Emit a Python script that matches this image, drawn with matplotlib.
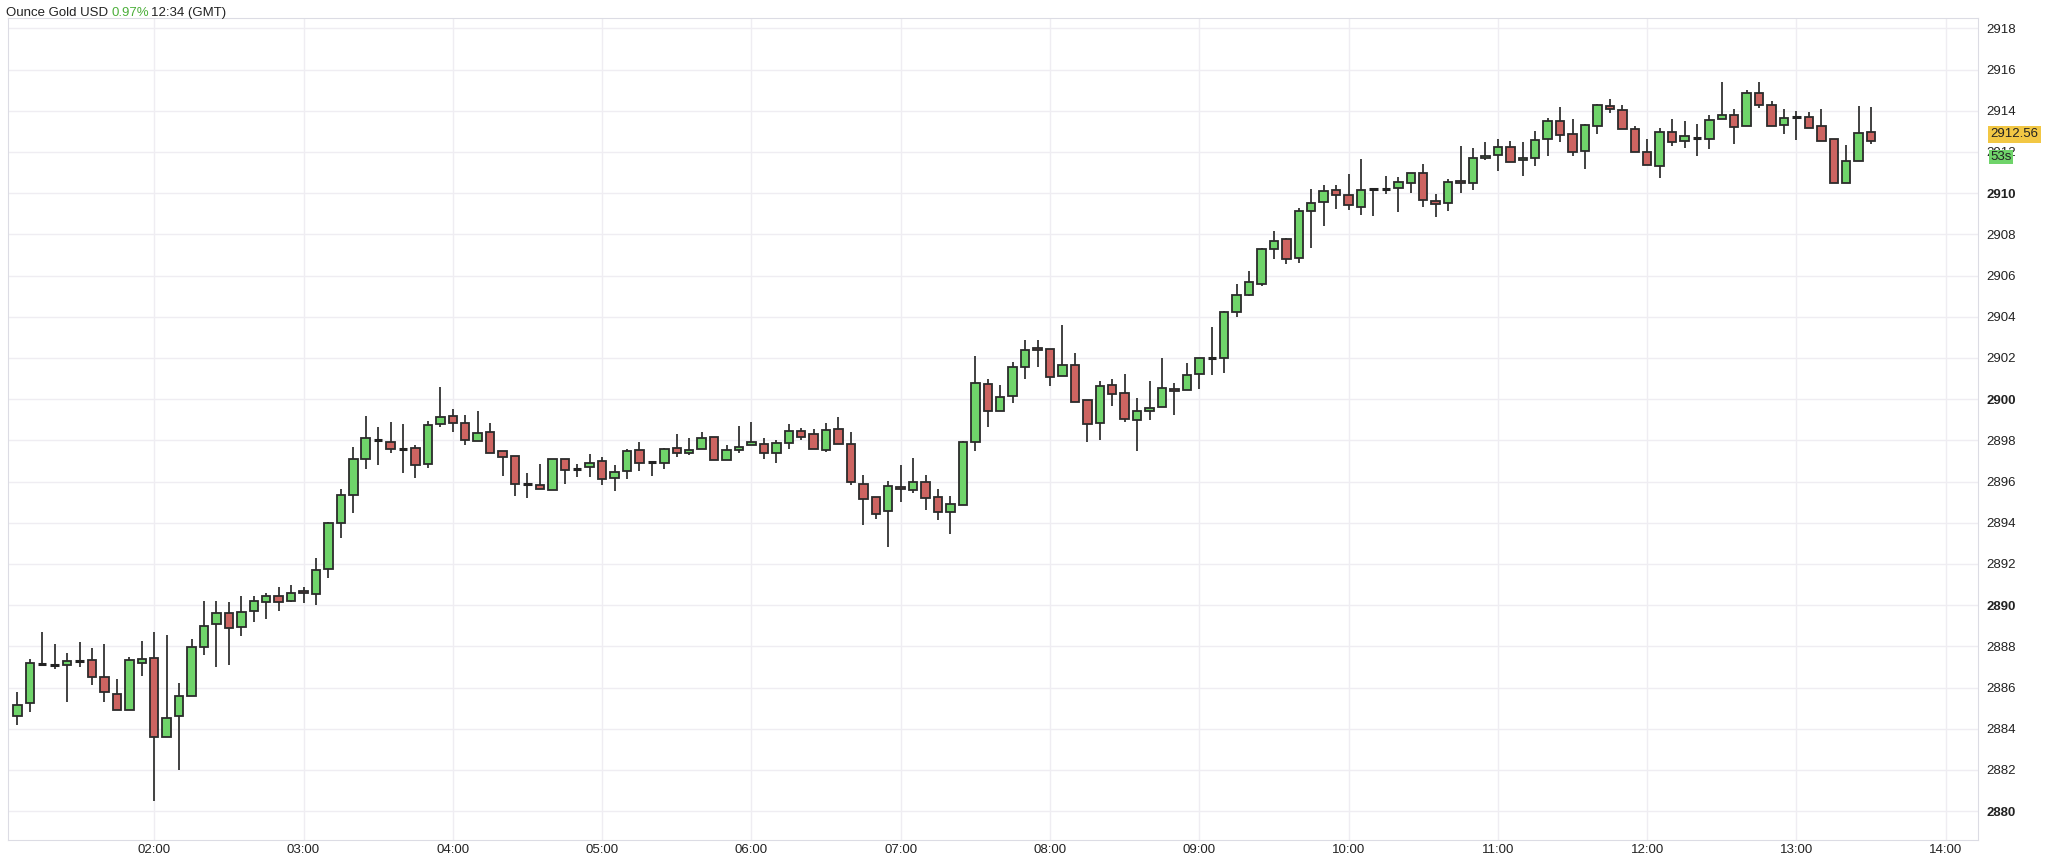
import matplotlib
matplotlib.use("Agg")
import matplotlib.pyplot as plt
from matplotlib.ticker import FixedLocator

start_time = "01:05"
interval_min = 5
opens = [2884.6,2885.25,2887.15,2887.1,2887.1,2887.3,2887.35,2886.5,2885.7,2884.9,
         2887.2,2887.45,2883.6,2884.6,2885.6,2887.95,2889.1,2889.6,2888.95,2889.7,
         2890.15,2890.45,2890.2,2890.7,2890.55,2891.75,2894.0,2895.35,2897.1,2898.0,
         2897.9,2897.6,2897.65,2896.85,2898.8,2899.2,2898.85,2897.95,2898.4,2897.5,
         2897.25,2895.9,2895.85,2895.6,2897.1,2896.6,2896.7,2897.0,2896.15,2896.5,
         2897.55,2896.95,2896.9,2897.65,2897.4,2897.6,2898.15,2897.05,2897.55,2897.75,
         2897.8,2897.4,2897.85,2898.45,2898.3,2897.55,2898.55,2897.8,2895.9,2895.25,
         2894.55,2895.75,2895.6,2896.0,2895.25,2894.5,2894.85,2897.9,2900.75,2899.4,
         2900.15,2901.55,2902.5,2902.45,2901.1,2901.65,2899.95,2898.85,2900.7,2900.3,
         2899.0,2899.4,2899.6,2900.5,2900.45,2901.2,2902.0,2902.0,2904.25,2905.05,
         2905.6,2907.3,2907.75,2906.85,2909.15,2909.55,2910.15,2909.9,2909.35,2910.2,
         2910.2,2910.25,2910.5,2911.0,2909.6,2909.5,2910.6,2910.5,2911.7,2911.85,
         2912.25,2911.6,2911.7,2912.65,2913.5,2912.85,2912.05,2913.25,2914.25,2914.05,
         2913.1,2912.0,2911.3,2912.95,2912.55,2912.7,2912.65,2913.6,2913.8,2913.25,
         2914.85,2914.3,2913.3,2913.7,2913.7,2913.25,2912.65,2910.5,2911.55,2912.95]
closes = [2885.15,2887.2,2887.15,2887.1,2887.3,2887.3,2886.5,2885.8,2884.9,2887.35,
          2887.4,2883.6,2884.5,2885.6,2887.95,2889.0,2889.6,2888.9,2889.65,2890.2,
          2890.45,2890.15,2890.6,2890.6,2891.7,2894.0,2895.35,2897.1,2898.1,2898.0,
          2897.6,2897.6,2896.8,2898.75,2899.15,2898.85,2898.0,2898.35,2897.4,2897.2,
          2895.9,2895.9,2895.65,2897.1,2896.55,2896.6,2896.9,2896.1,2896.45,2897.5,
          2896.9,2896.95,2897.6,2897.4,2897.55,2898.1,2897.05,2897.55,2897.7,2897.9,
          2897.4,2897.85,2898.45,2898.15,2897.6,2898.5,2897.8,2896.0,2895.15,2894.4,
          2895.8,2895.65,2896.0,2895.2,2894.5,2894.9,2897.9,2900.8,2899.4,2900.1,
          2901.55,2902.4,2902.4,2901.05,2901.65,2899.85,2898.8,2900.65,2900.25,2899.05,
          2899.4,2899.55,2900.55,2900.4,2901.15,2902.0,2902.0,2904.25,2905.05,2905.7,
          2907.3,2907.7,2906.8,2909.15,2909.5,2910.1,2909.9,2909.4,2910.15,2910.2,
          2910.2,2910.55,2911.0,2909.65,2909.45,2910.55,2910.5,2911.7,2911.8,2912.25,
          2911.5,2911.7,2912.6,2913.5,2912.8,2912.0,2913.3,2914.3,2914.1,2913.1,
          2912.0,2911.35,2912.95,2912.5,2912.75,2912.7,2913.55,2913.8,2913.2,2914.85,
          2914.3,2913.25,2913.65,2913.7,2913.15,2912.55,2910.5,2911.55,2912.9,2912.55]
highs = [2885.8,2887.4,2888.7,2888.1,2887.7,2888.2,2887.9,2888.1,2886.4,2887.5,
         2888.25,2888.7,2888.55,2886.2,2888.35,2890.2,2890.2,2890.15,2890.45,2890.45,
         2890.6,2890.9,2891.0,2890.9,2892.3,2894.05,2895.65,2897.7,2899.2,2898.65,
         2898.9,2898.8,2897.75,2898.95,2900.6,2899.5,2899.25,2899.4,2898.85,2897.5,
         2897.25,2896.4,2896.85,2897.1,2897.1,2896.85,2897.35,2897.2,2896.8,2897.6,
         2897.9,2897.0,2897.65,2898.3,2898.1,2898.4,2898.15,2897.75,2898.7,2898.9,
         2898.1,2898.0,2898.8,2898.6,2898.55,2898.85,2899.15,2898.4,2896.3,2895.25,
         2896.05,2896.8,2897.15,2896.3,2895.65,2895.3,2897.95,2902.1,2901.0,2900.7,
         2901.8,2902.85,2902.85,2902.45,2903.6,2902.25,2899.95,2900.9,2901.0,2901.2,
         2900.05,2900.9,2902.0,2900.8,2901.75,2902.0,2903.5,2904.3,2905.6,2906.2,
         2907.35,2908.15,2907.8,2909.3,2910.2,2910.4,2910.4,2910.95,2911.65,2910.25,
         2910.85,2910.8,2911.0,2911.4,2909.95,2910.7,2912.3,2912.2,2912.5,2912.65,
         2912.55,2912.5,2913.0,2913.65,2914.2,2913.6,2913.35,2914.35,2914.55,2914.3,
         2913.25,2912.65,2913.15,2913.6,2913.5,2913.35,2913.8,2915.4,2914.1,2915.0,
         2915.4,2914.45,2914.1,2914.0,2913.95,2914.1,2912.65,2912.35,2914.25,2914.2]
lows = [2884.2,2884.8,2887.05,2886.9,2885.3,2887.0,2886.1,2885.3,2884.9,2884.9,
        2886.55,2880.5,2883.6,2882.0,2885.6,2887.6,2887.0,2887.1,2888.5,2889.2,
        2889.35,2889.7,2890.15,2890.1,2890.0,2891.3,2893.25,2894.45,2896.6,2896.8,
        2897.4,2896.4,2896.15,2896.65,2898.65,2898.4,2897.75,2897.95,2897.4,2896.25,
        2895.3,2895.2,2895.65,2895.6,2895.9,2896.2,2896.2,2895.85,2895.55,2896.1,
        2896.5,2896.25,2896.6,2897.2,2897.3,2897.6,2897.05,2897.05,2897.4,2897.75,
        2897.1,2896.9,2897.6,2898.0,2897.6,2897.45,2897.8,2895.85,2893.9,2894.2,
        2892.8,2895.0,2895.45,2894.6,2894.15,2893.45,2894.85,2897.5,2898.65,2899.4,
        2899.8,2901.0,2901.55,2900.65,2901.1,2899.85,2897.9,2898.0,2899.65,2898.9,
        2897.5,2899.0,2899.6,2899.25,2900.45,2900.5,2901.15,2901.25,2904.0,2905.0,
        2905.5,2906.8,2906.55,2906.6,2907.35,2908.4,2909.25,2909.2,2908.95,2908.9,
        2909.95,2909.1,2910.0,2909.35,2908.85,2909.15,2910.0,2910.15,2911.6,2911.05,
        2911.5,2910.85,2911.3,2911.8,2912.5,2911.8,2911.15,2912.85,2913.9,2913.1,
        2912.0,2911.35,2910.75,2912.3,2912.2,2911.8,2912.15,2913.6,2912.4,2913.25,
        2914.15,2913.25,2912.85,2912.6,2913.15,2912.55,2910.5,2910.5,2911.55,2912.4]
x_tick_labels = ["02:00","03:00","04:00","05:00","06:00","07:00","08:00",
                 "09:00","10:00","11:00","12:00","13:00","14:00"]
y_ticks = list(range(2880, 2920, 2))
bold_ticks = [2880, 2890, 2900, 2910]
last_price = "2912.56"
countdown = "53s"

plt.rcParams['font.family'] = ['Liberation Sans', 'DejaVu Sans']
fig = plt.figure(figsize=(20.48, 8.58), dpi=100)
ax = fig.add_axes([0.004, 0.021, 0.962, 0.958])

h0, m0 = map(int, start_time.split(":"))
t0 = h0 + m0 / 60
xs = [t0 + i * interval_min / 60 for i in range(len(opens))]
w = 0.68 * interval_min / 60
green, red = "#6fd46a", "#cd6461"
for x, o, h, l, c in zip(xs, opens, highs, lows, closes):
    ax.vlines(x, l, h, color="#333333", lw=1.3, zorder=2)
    col = green if c >= o else red
    lo, hi = min(o, c), max(o, c)
    if hi - lo < 0.06:
        ax.hlines((o + c) / 2, x - w / 2, x + w / 2, color="#222222", lw=2.2, zorder=3)
    else:
        ax.bar(x, hi - lo, bottom=lo, width=w, color=col, edgecolor="#2b2b2b",
               linewidth=1.3, zorder=3)

ax.set_xlim(2 - 112 / 114.5, 14 + 25 / 114.5)
ax.set_ylim(2878.6, 2918.5)
xt = [int(s[:2]) for s in x_tick_labels]
ax.xaxis.set_major_locator(FixedLocator(xt))
ax.set_xticklabels(x_tick_labels, fontsize=9.5, color="#222222")
ax.yaxis.tick_right()
ax.set_yticks(y_ticks)
ax.set_yticklabels([str(v) for v in y_ticks], fontsize=9.5, color="#222222")
for lab, v in zip(ax.get_yticklabels(), y_ticks):
    if v in bold_ticks:
        lab.set_fontweight("bold")
ax.tick_params(axis="both", length=0, pad=6)
ax.tick_params(axis="x", pad=3)
ax.grid(True, color="#efedf2", lw=1.0)
ax.set_axisbelow(True)
for s in ax.spines.values():
    s.set_color("#dcdce4")

fig.text(0.003, 0.985, "Ounce Gold USD", fontsize=9.5, color="#222222", va="center")
fig.text(0.0545, 0.985, "0.97%", fontsize=9.5, color="#4caf3a", va="center")
fig.text(0.0735, 0.985, "12:34 (GMT)", fontsize=9.5, color="#222222", va="center")

yr = 2918.5 - 2878.6
ax.text(1.006, (2912.85 - 2878.6) / yr, last_price, transform=ax.transAxes,
        fontsize=9.5, va="center", ha="left", color="#222222",
        bbox=dict(boxstyle="square,pad=0.2", fc="#f2c744", ec="none"))
ax.text(1.006, (2911.75 - 2878.6) / yr, countdown, transform=ax.transAxes,
        fontsize=9.5, va="center", ha="left", color="#222222",
        bbox=dict(boxstyle="square,pad=0.1", fc="#6fd46a", ec="none"))

fig.savefig("out.png", dpi=100)
